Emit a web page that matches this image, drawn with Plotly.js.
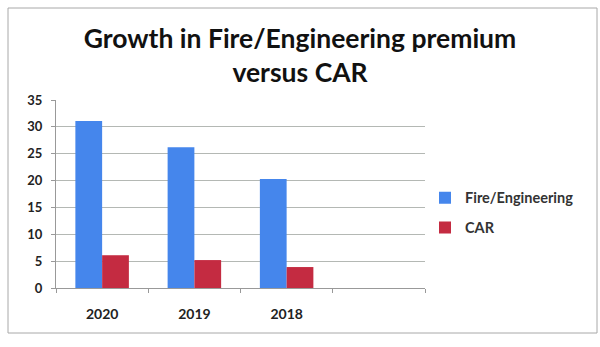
<!DOCTYPE html>
<html><head><meta charset="utf-8">
<script src="https://cdn.plot.ly/plotly-3.0.1.min.js"></script>
<style>html,body{margin:0;padding:0;background:#fff;}#chart{width:600px;height:347px;}</style>
</head><body><div id="chart"></div>
<script>
var categories = ["2020", "2019", "2018", " "];
var fireEngineering = [31.1, 26.2, 20.3, null];
var car = [6.1, 5.2, 3.9, null];
var yTicks = [0, 5, 10, 15, 20, 25, 30, 35];

var font = "Lato, 'Open Sans', sans-serif";
var traces = [
  {type: "bar", name: "Fire/Engineering", x: categories, y: fireEngineering,
   marker: {color: "#4586ec"}, legendgroup: "a"},
  {type: "bar", name: "CAR", x: categories, y: car,
   marker: {color: "#c42b41"}, legendgroup: "b"}
];
var layout = {
  width: 600, height: 347,
  margin: {l: 56, r: 175, t: 100, b: 59},
  paper_bgcolor: "#fff", plot_bgcolor: "#fff",
  font: {family: font, color: "#222"},
  title: {text: "<b>Growth in Fire/Engineering premium<br>versus CAR</b>",
          font: {family: font, size: 26.5, color: "#111"},
          x: 0.5, xanchor: "center", y: 0.862, yanchor: "top"},
  bargap: 0.42, bargroupgap: 0,
  barmode: "group",
  xaxis: {type: "category", categoryorder: "array", categoryarray: categories,
          range: [-0.5, 3.5], tickson: "boundaries", ticks: "outside", ticklen: 4,
          tickcolor: "#999", showline: true, linecolor: "#999", linewidth: 1,
          showgrid: false, tickfont: {family: font, size: 14, color: "#222", weight: "bold"},
          ticklabelstandoff: 13, fixedrange: true},
  yaxis: {range: [0, 35], tickvals: yTicks, ticks: "outside", ticklen: 4,
          tickcolor: "#999", showline: true, linecolor: "#999", linewidth: 1,
          gridcolor: "#b4b8b4", gridwidth: 1, zeroline: false,
          tickfont: {family: font, size: 13, color: "#222", weight: "bold"},
          ticklabelstandoff: 6, fixedrange: true},
  showlegend: true,
  legend: {x: 1.0, xanchor: "left", y: 0.40, yanchor: "middle",
           traceorder: "grouped", tracegroupgap: 8,
           font: {family: font, size: 14.5, color: "#333", weight: "bold"},
           bgcolor: "rgba(0,0,0,0)"},
  shapes: [
    {type: "rect", xref: "paper", yref: "paper",
     x0: (8 - 56) / 369, x1: (597 - 56) / 369, y0: (288 - 333) / 188, y1: (288 - 8) / 188,
     line: {color: "#a8a8a8", width: 1}, fillcolor: "rgba(0,0,0,0)", layer: "below"}
  ]
};
Plotly.newPlot("chart", traces, layout, {displayModeBar: false, staticPlot: true});
</script></body></html>
